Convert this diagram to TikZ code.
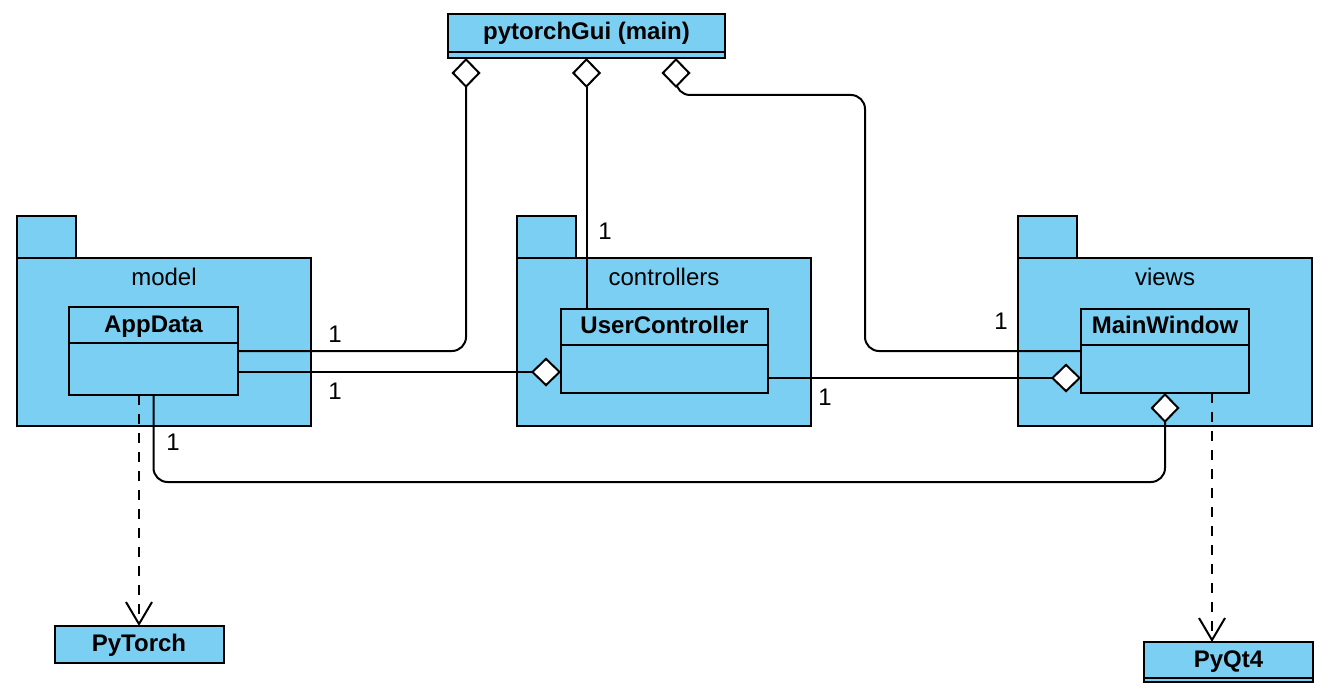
\documentclass[tikz,border=0pt]{standalone}
\usepackage{fontspec}
\setmainfont{Liberation Sans}
\usepackage{tikz}
\usetikzlibrary{positioning, arrows.meta}
\definecolor{umlblue}{RGB}{122,207,243}

\begin{document}
\begin{tikzpicture}[x=1pt, y=-1pt]
		\tikzstyle{every node}=[font=\fontsize{24}{29}\selectfont, inner sep=0pt, outer sep=0pt, text height=16pt, text depth=2pt]
		\tikzstyle{pkg}=[rectangle, draw, line width=2pt, fill=umlblue, minimum width=294pt, minimum height=168pt, anchor=north west]
		\tikzstyle{pkgtab}=[rectangle, draw, line width=2pt, fill=umlblue, minimum width=59pt, minimum height=42pt, text height=0pt, text depth=0pt]
		\tikzstyle{cls}=[rectangle, draw, line width=2pt, fill=umlblue, minimum height=36pt, font=\fontsize{24}{29}\selectfont\bfseries, anchor=north west]
		\tikzstyle{clsbody}=[rectangle, draw, line width=2pt, fill=umlblue, text height=0pt, text depth=0pt]
		\tikzstyle{mult}=[]
		\tikzstyle{aggr}=[line width=2pt, -{Diamond[fill=white, length=30pt, width=29pt]}]
		\tikzstyle{dep}=[line width=2pt, dash pattern=on 10pt off 9pt, -{Straight Barb[length=22pt, width=26pt]}]

		\useasboundingbox (0,0) rectangle (1340,692);

		% packages
		\node[pkg] (model) at (17,258) {};
		\node[pkgtab, above right=0pt and 0pt of model.north west] (modeltab) {};
		\node (modellabel) at ([yshift=-21pt]model.north) {model};

		\node[pkg] (controllers) at (517,258) {};
		\node[pkgtab, above right=0pt and 0pt of controllers.north west] (controllerstab) {};
		\node (controllerslabel) at ([yshift=-21pt]controllers.north) {controllers};

		\node[pkg] (views) at (1018,258) {};
		\node[pkgtab, above right=0pt and 0pt of views.north west] (viewstab) {};
		\node (viewslabel) at ([yshift=-21pt]views.north) {views};

		% classes
		\node[cls, minimum width=277pt, minimum height=38pt] (main) at (448,14) {pytorchGui (main)};
		\node[clsbody, minimum width=277pt, minimum height=6pt, below=0pt of main] (main-b) {};

		\node[cls, minimum width=169pt] (appdata) at (69,307) {AppData};
		\node[clsbody, minimum width=169pt, minimum height=52pt, below=0pt of appdata] (appdata-b) {};

		\node[cls, minimum width=207pt] (usercontroller) at (561,309) {UserController};
		\node[clsbody, minimum width=207pt, minimum height=48pt, below=0pt of usercontroller] (usercontroller-b) {};

		\node[cls, minimum width=168pt] (mainwindow) at (1081,309) {MainWindow};
		\node[clsbody, minimum width=168pt, minimum height=48pt, below=0pt of mainwindow] (mainwindow-b) {};

		\node[cls, minimum width=169pt, minimum height=37pt] (pytorch) at (54.5,626) {PyTorch};

		\node[cls, minimum width=169pt] (pyqt4) at (1144,642) {PyQt4};
		\node[clsbody, minimum width=169pt, minimum height=4pt, below=0pt of pyqt4] (pyqt4-b) {};

		% connectors
		\draw[aggr, rounded corners=14pt] ([yshift=-8pt]appdata-b.north east) -| ([xshift=-120.5pt]main-b.south);
		\draw[aggr] ([yshift=-29pt]appdata-b.north east) -- ([yshift=-27pt]usercontroller-b.north west);
		\draw[aggr] ([yshift=-33pt]usercontroller-b.north east) -- ([yshift=-33pt]mainwindow-b.north west);
		\draw[aggr, rounded corners=14pt] ([yshift=-6pt]mainwindow-b.north west) -| (865,95) -| ([xshift=89.5pt]main-b.south);
		\draw[aggr] (main-b.south |- usercontroller.north) -- (main-b.south);
		\draw[aggr, rounded corners=14pt] (appdata-b.south) |- ([yshift=-89pt]mainwindow-b.south) -- (mainwindow-b.south);

		\draw[dep] ([xshift=-14.5pt]appdata-b.south) -- (pytorch.north);
		\draw[dep] ([xshift=47pt]mainwindow-b.south) -- ([xshift=-16.5pt]pyqt4.north);

		% multiplicities
		\node[mult] (m1) at (335,335) {1};
		\node[mult] (m2) at (335,392) {1};
		\node[mult] (m3) at (605,233) {1};
		\node[mult] (m4) at (825,398) {1};
		\node[mult] (m5) at (1001,323) {1};
		\node[mult] (m6) at (173,443) {1};

	\end{tikzpicture}
\end{document}
